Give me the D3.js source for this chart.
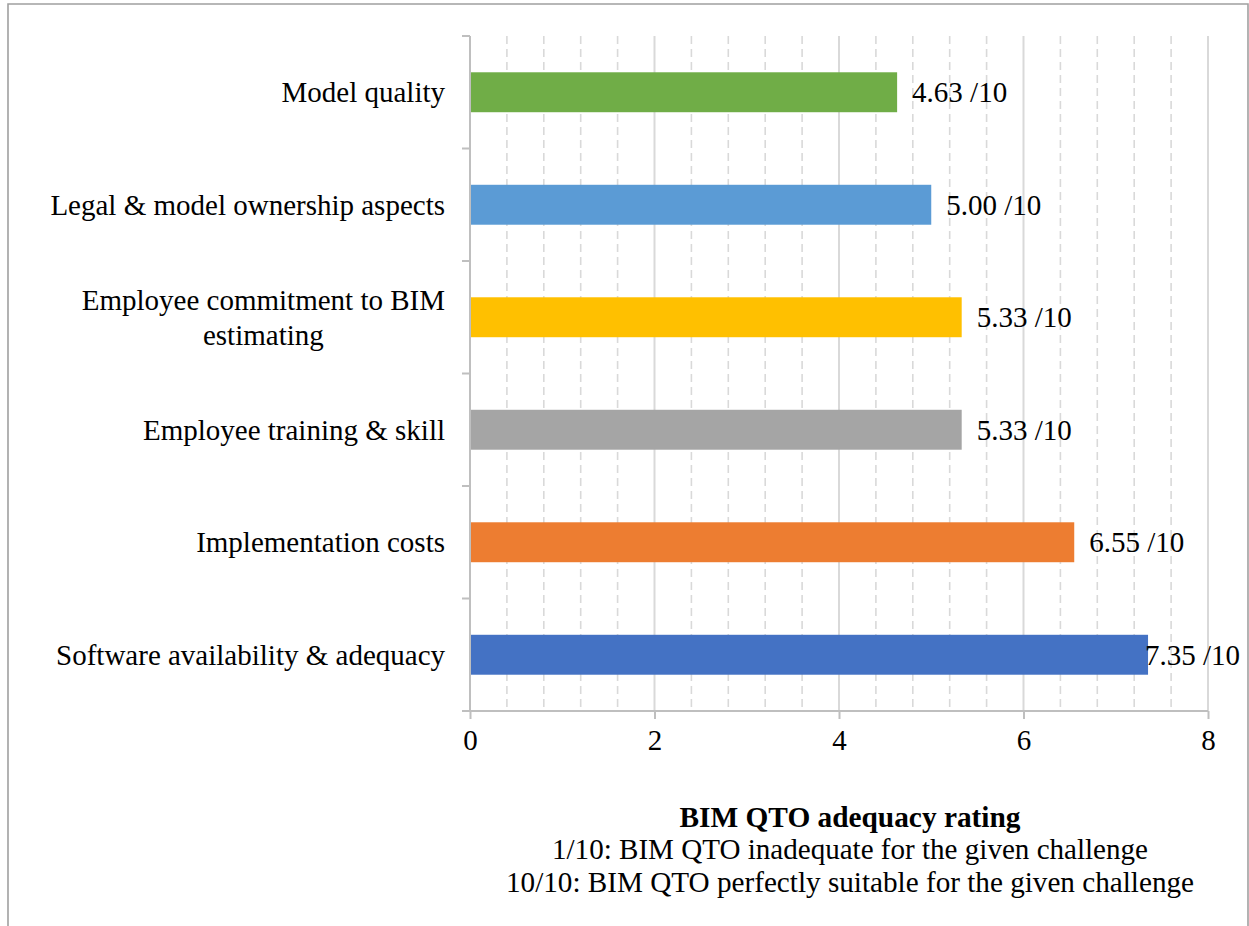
<!DOCTYPE html>
<html>
<head>
<meta charset="utf-8">
<script src="https://cdn.jsdelivr.net/npm/d3@7"></script>
<style>
  html, body { margin: 0; padding: 0; background: #fff; }
  svg { display: block; }
  text { font-family: "Liberation Serif", "Times New Roman", serif; fill: #000; }
</style>
</head>
<body>
<svg id="chart" width="1249" height="926"></svg>
<script>
// Challenges (top to bottom) and their mean adequacy rating out of 10
const categories = [
  ["Model quality"],
  ["Legal & model ownership aspects"],
  ["Employee commitment to BIM", "estimating"],
  ["Employee training & skill"],
  ["Implementation costs"],
  ["Software availability & adequacy"]
];
const ratings = [4.63, 5.00, 5.33, 5.33, 6.55, 7.35];
const barColors = ["#70ad47", "#5b9bd5", "#ffc000", "#a5a5a5", "#ed7d31", "#4472c4"];
const xTicks = [0, 2, 4, 6, 8];
const titleLines = [
  "BIM QTO adequacy rating",
  "1/10: BIM QTO inadequate for the given challenge",
  "10/10: BIM QTO perfectly suitable for the given challenge"
];

const svg = d3.select("#chart");
const plot = { left: 470, right: 1208, top: 36, bottom: 711 };
const fontSize = 29;

// Outer frame (bottom edge runs off the page)
svg.append("path")
  .attr("d", "M8,930 V4 H1248 V930")
  .attr("fill", "none")
  .attr("stroke", "#a0a0a0")
  .attr("stroke-width", 1.6);

const x = d3.scaleLinear().domain([0, 8]).range([plot.left, plot.right]);
const y = d3.scaleBand()
  .domain(categories.map((c, i) => i))
  .range([plot.top, plot.bottom])
  .paddingInner(0.645)
  .paddingOuter(0.3225);

// Minor dashed gridlines every 0.4
const minor = d3.range(1, 20).map(i => +(i * 0.4).toFixed(1)).filter(v => Math.abs(v / 2 - Math.round(v / 2)) > 1e-6);
svg.append("g").selectAll("line").data(minor).join("line")
  .attr("x1", d => x(d)).attr("x2", d => x(d))
  .attr("y1", plot.top).attr("y2", plot.bottom)
  .attr("stroke", "#d9d9d9").attr("stroke-width", 1.6)
  .attr("stroke-dasharray", "8,5");

// Major gridlines
svg.append("g").selectAll("line").data(xTicks.slice(1)).join("line")
  .attr("x1", d => x(d)).attr("x2", d => x(d))
  .attr("y1", plot.top).attr("y2", plot.bottom)
  .attr("stroke", "#d9d9d9").attr("stroke-width", 2);

// Bars
svg.append("g").selectAll("rect").data(ratings).join("rect")
  .attr("x", x(0))
  .attr("y", (d, i) => y(i))
  .attr("width", d => x(d) - x(0))
  .attr("height", y.bandwidth())
  .attr("fill", (d, i) => barColors[i]);

// X axis
const xAxis = svg.append("g")
  .attr("transform", `translate(0,${plot.bottom})`)
  .call(d3.axisBottom(x).tickValues(xTicks).tickSize(8).tickPadding(10).tickFormat(d3.format("d")));
xAxis.select(".domain").remove();
xAxis.selectAll(".tick line").attr("stroke", "#bfbfbf").attr("stroke-width", 2);
xAxis.selectAll(".tick text")
  .style("font-family", '"Liberation Serif", "Times New Roman", serif')
  .style("font-size", fontSize + "px")
  .attr("fill", "#000");
svg.append("line")
  .attr("x1", plot.left - 8).attr("x2", plot.right)
  .attr("y1", plot.bottom).attr("y2", plot.bottom)
  .attr("stroke", "#bfbfbf").attr("stroke-width", 2);

// Y axis line and category boundary ticks
svg.append("line")
  .attr("x1", plot.left).attr("x2", plot.left)
  .attr("y1", plot.top).attr("y2", plot.bottom)
  .attr("stroke", "#bfbfbf").attr("stroke-width", 2);
const step = y.step();
svg.append("g").selectAll("line").data(d3.range(categories.length)).join("line")
  .attr("x1", plot.left - 8).attr("x2", plot.left)
  .attr("y1", (d) => plot.top + d * step).attr("y2", (d) => plot.top + d * step)
  .attr("stroke", "#bfbfbf").attr("stroke-width", 2);

// Category labels
const labelRight = plot.left - 25;
categories.forEach((lines, i) => {
  const cy = y(i) + y.bandwidth() / 2;
  const lh = 35;
  const g = svg.append("g");
  const t0 = g.append("text")
    .attr("x", labelRight)
    .attr("text-anchor", "end")
    .style("font-size", fontSize + "px")
    .text(lines[0]);
  const w0 = t0.node().getComputedTextLength();
  const y0 = cy - (lines.length - 1) * lh / 2 + 10;
  t0.attr("y", y0);
  lines.slice(1).forEach((ln, j) => {
    g.append("text")
      .attr("x", labelRight - w0 / 2)
      .attr("y", y0 + (j + 1) * lh)
      .attr("text-anchor", "middle")
      .style("font-size", fontSize + "px")
      .text(ln);
  });
});

// Value labels, kept inside the frame
const fmt = d3.format(".2f");
svg.append("g").selectAll("text").data(ratings).join("text")
  .style("font-size", fontSize + "px")
  .attr("y", (d, i) => y(i) + y.bandwidth() / 2 + 10)
  .text(d => fmt(d) + " /10")
  .attr("x", function (d) {
    const w = this.getComputedTextLength();
    return Math.min(x(d) + 15, 1240 - w);
  });

// Axis title block (condensed serif lines)
const centerX = 850;
const titleSpecs = [
  { y: 827, w: 341, bold: true },
  { y: 859, w: 596, bold: false },
  { y: 892, w: 688, bold: false }
];
titleLines.forEach((s, i) => {
  const spec = titleSpecs[i];
  svg.append("text")
    .attr("x", centerX - spec.w / 2)
    .attr("y", spec.y)
    .attr("textLength", spec.w)
    .attr("lengthAdjust", "spacingAndGlyphs")
    .style("font-size", "30px")
    .style("font-weight", spec.bold ? "bold" : "normal")
    .text(s);
});
</script>
</body>
</html>
